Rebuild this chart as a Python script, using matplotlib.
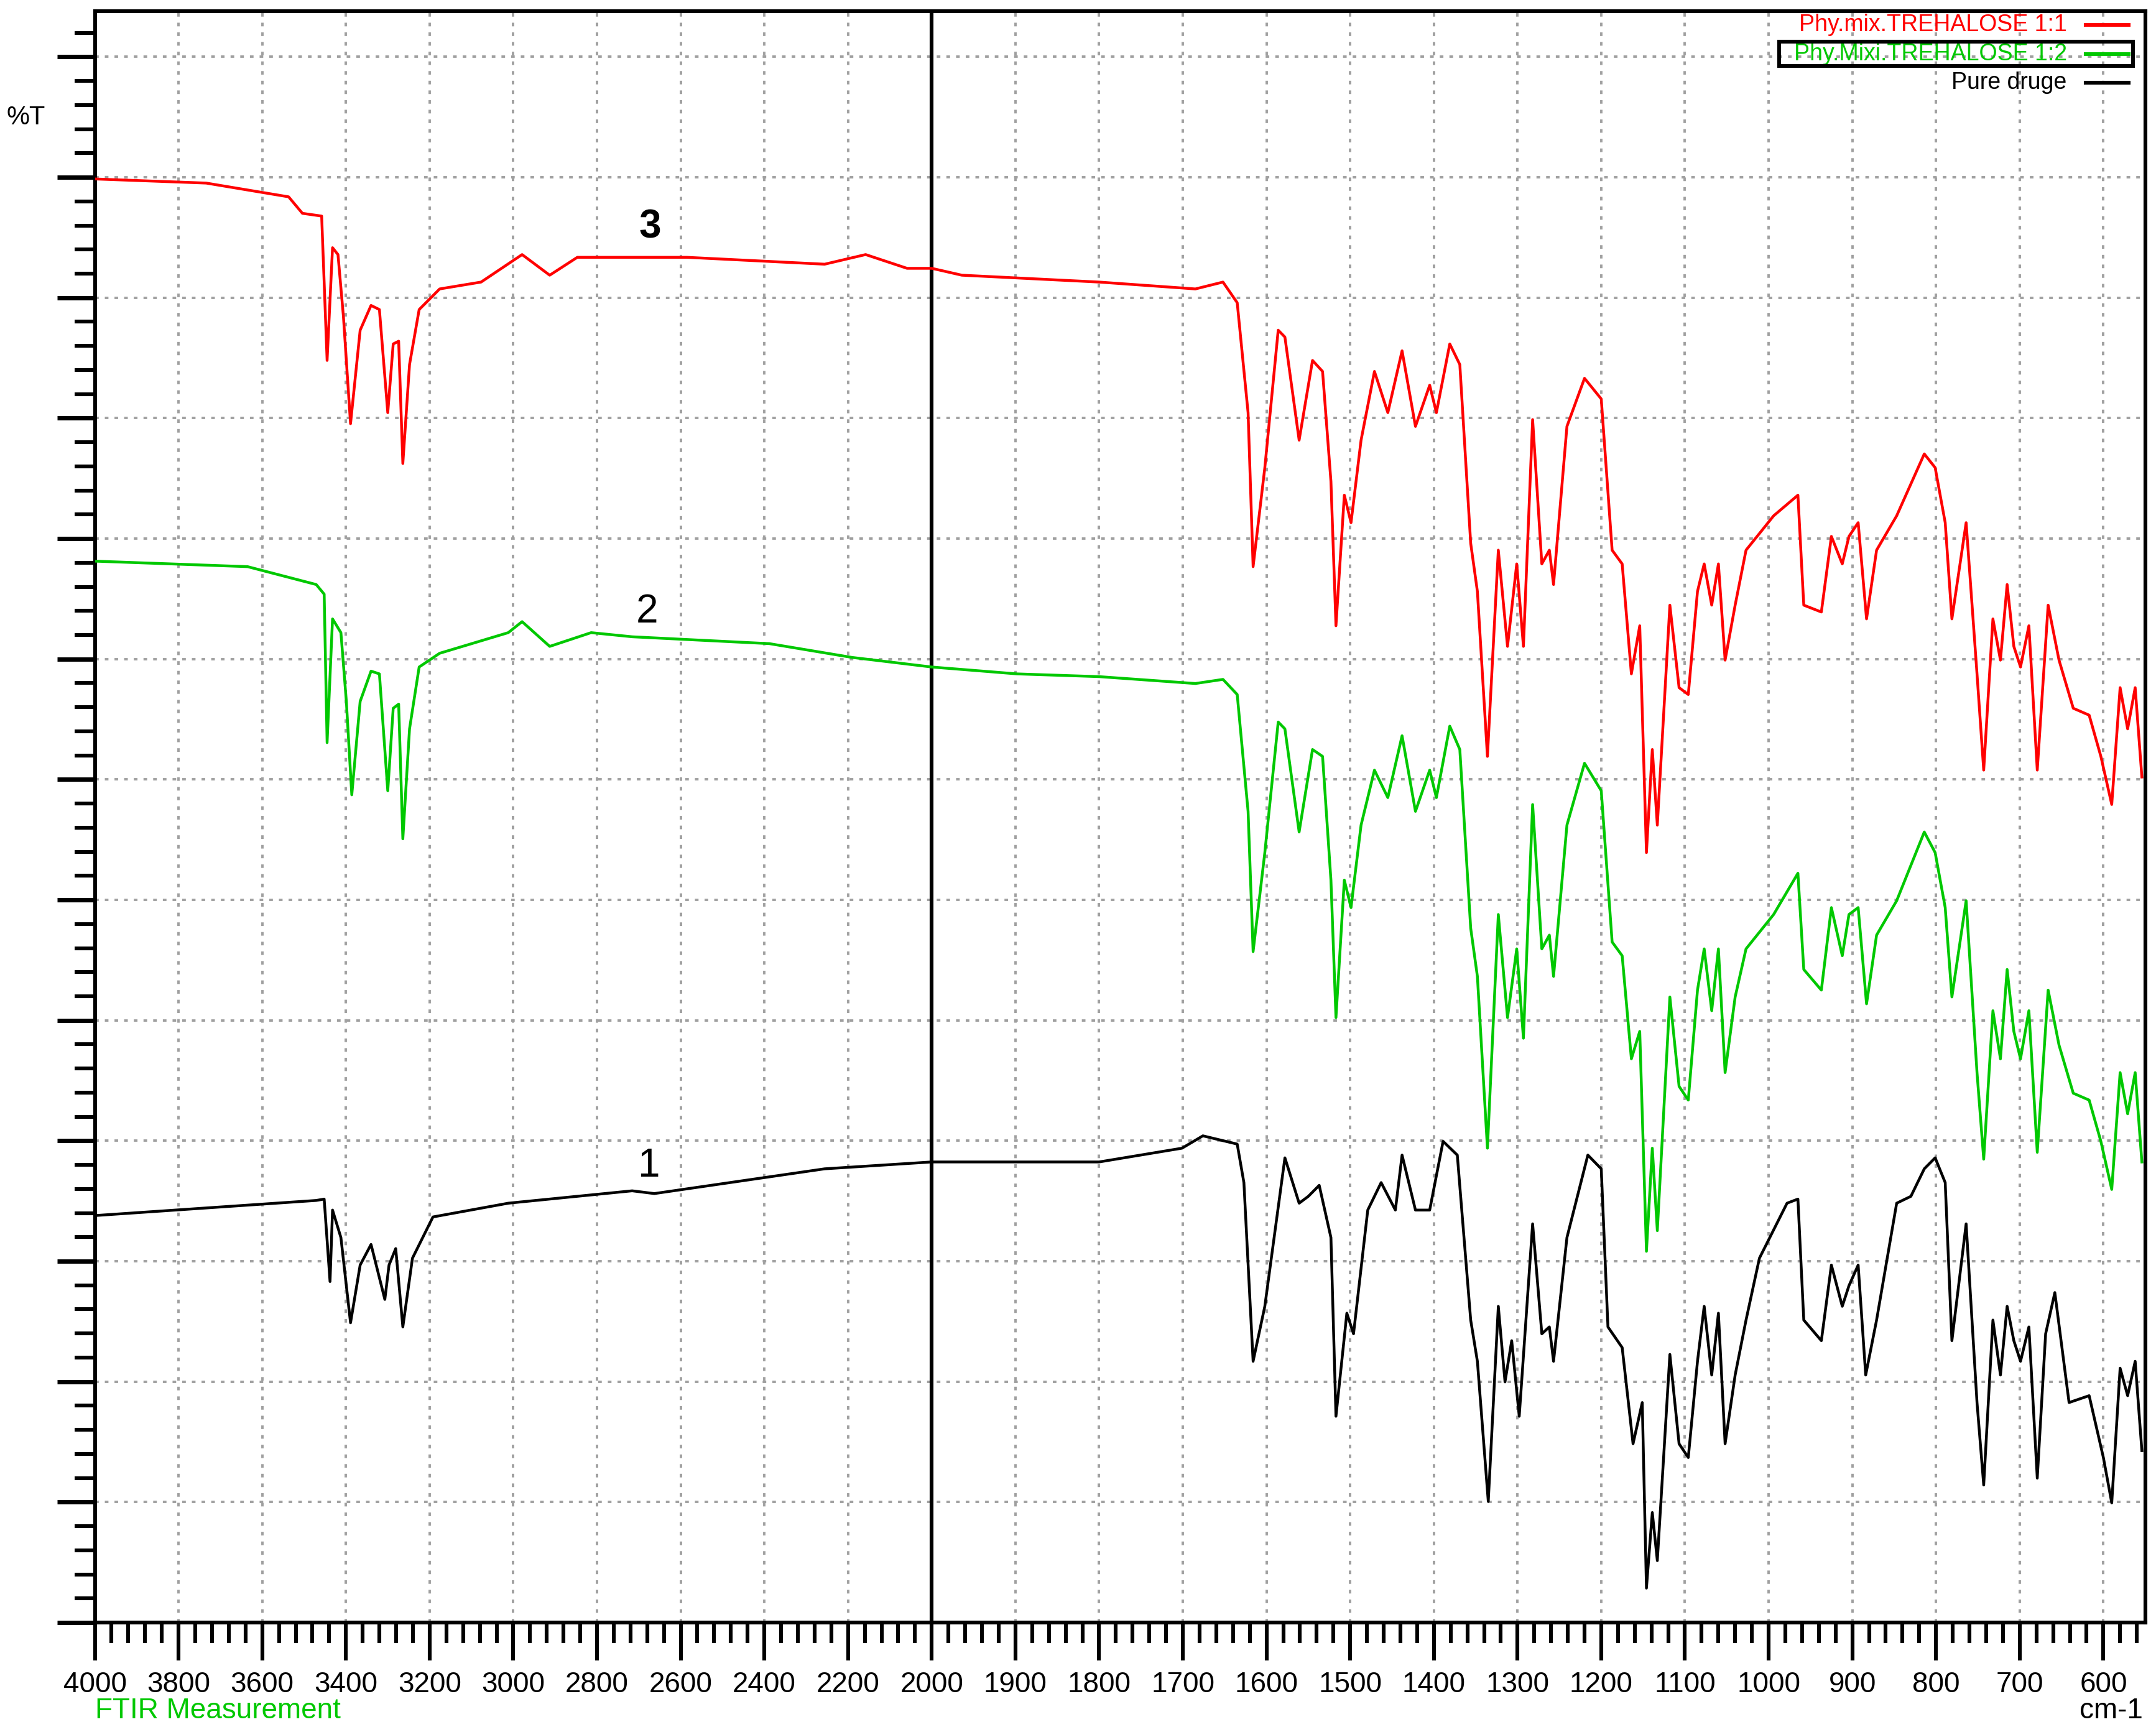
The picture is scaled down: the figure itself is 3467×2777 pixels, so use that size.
"""
FTIR overlay: pure drug vs physical mixtures with trehalose.
Wavenumber axis is split: 4000-2000 at half scale, 2000-550 at full scale.
"""
import numpy as np
import matplotlib
matplotlib.use("Agg")
import matplotlib.pyplot as plt
from matplotlib.ticker import FixedLocator, MultipleLocator

plt.rcParams["font.family"] = ["Liberation Sans", "DejaVu Sans"]

# -- Data (wavenumber cm-1, relative transmittance) --------------------------
black_wn = [4000, 3471, 3452, 3438, 3432, 3412, 3389, 3366, 3340, 3307, 3297, 3281, 3264, 3241,
            3192, 3012, 2716, 2663, 2256, 2000, 1964, 1800, 1701, 1676, 1635, 1627, 1616, 1602,
            1578, 1561, 1550, 1537, 1523, 1517, 1504, 1496, 1479, 1463, 1446, 1438, 1422, 1405,
            1389, 1372, 1356, 1348, 1335, 1323, 1315, 1307, 1298, 1282, 1271, 1262, 1257, 1241,
            1216, 1200, 1192, 1175, 1162, 1151, 1146, 1139, 1133, 1118, 1107, 1096, 1085, 1077,
            1068, 1060, 1052, 1040, 1027, 1011, 978, 965, 958, 937, 925, 912, 904, 893, 884, 871,
            847, 830, 814, 801, 789, 781, 764, 751, 743, 732, 723, 715, 707, 699, 689, 679, 669,
            658, 641, 617, 600, 590, 580, 571, 562, 554]
black_t = [296, 307, 308, 248, 300, 280, 218, 260, 275, 235, 260, 272, 215, 265,
           295, 305, 314, 312, 330, 335, 335, 335, 345, 354, 348, 320, 190, 230,
           338, 305, 310, 318, 280, 150, 225, 210, 300, 320, 300, 340, 300, 300,
           350, 340, 220, 190, 88, 230, 175, 205, 150, 290, 210, 215, 190, 280,
           340, 330, 215, 200, 130, 160, 25, 80, 45, 195, 130, 120, 190, 230,
           180, 225, 130, 180, 220, 265, 305, 308, 220, 205, 260, 230, 245, 260, 180, 220,
           305, 310, 330, 338, 320, 205, 290, 160, 100, 220, 180, 230, 205, 190, 215, 105, 210,
           240, 160, 165, 120, 87, 185, 165, 190, 125]

red_wn = [4000, 3734, 3537, 3504, 3458, 3445, 3432, 3419, 3406, 3389, 3366, 3340, 3320, 3300,
          3287, 3274, 3264, 3248, 3225, 3176, 3077, 2979, 2913, 2847, 2585, 2256, 2158, 2059,
          2000, 1964, 1800, 1685, 1652, 1635, 1622, 1616, 1602, 1586, 1578, 1561, 1545, 1533,
          1523, 1517, 1507, 1499, 1487, 1471, 1455, 1438, 1422, 1405, 1397, 1381, 1369, 1356,
          1348, 1336, 1323, 1312, 1301, 1293, 1282, 1271, 1262, 1257, 1241, 1220, 1200, 1187,
          1175, 1164, 1154, 1146, 1139, 1133, 1118, 1107, 1096, 1085, 1077, 1068, 1060, 1052,
          1040, 1027, 994, 965, 958, 937, 925, 912, 904, 893, 883, 871, 847, 814, 801, 789,
          781, 764, 751, 743, 732, 723, 715, 707, 699, 689, 679, 666, 653, 636, 617, 603, 590,
          580, 571, 562, 554]
red_t = [1050, 1047, 1037, 1025, 1023, 918, 1000, 995, 950, 872, 940, 958, 955, 880,
         930, 932, 843, 915, 955, 970, 975, 995, 980, 993, 993, 988, 995, 985,
         985, 980, 975, 970, 975, 960, 880, 768, 840, 940, 935, 860, 918, 910,
         830, 725, 820, 800, 860, 910, 880, 925, 870, 900, 880, 930, 915, 785,
         750, 630, 780, 710, 770, 710, 875, 770, 780, 755, 870, 905, 890, 780,
         770, 690, 725, 560, 635, 580, 740, 680, 675, 750, 770, 740, 770, 700,
         740, 780, 805, 820, 740, 735, 790, 770, 790, 800, 730, 780, 805, 850, 840, 800,
         730, 800, 690, 620, 730, 700, 755, 710, 695, 725, 620, 740, 700, 665, 660, 630, 595,
         680, 650, 680, 615]

green_wn = [4000, 3635, 3471, 3452, 3445, 3432, 3412, 3399, 3386, 3366, 3340, 3320, 3300, 3287,
            3274, 3264, 3248, 3225, 3176, 3012, 2979, 2913, 2814, 2716, 2388, 2191, 2000, 1898,
            1800, 1685, 1652, 1635, 1622, 1616, 1602, 1586, 1578, 1561, 1545, 1533, 1523, 1517,
            1507, 1499, 1487, 1471, 1455, 1438, 1422, 1405, 1397, 1381, 1369, 1356, 1348, 1336,
            1323, 1312, 1301, 1293, 1282, 1271, 1262, 1257, 1241, 1220, 1200, 1187, 1175, 1164,
            1154, 1146, 1139, 1133, 1118, 1107, 1096, 1085, 1077, 1068, 1060, 1052, 1040, 1027,
            994, 965, 958, 937, 925, 912, 904, 893, 883, 871, 847, 814, 801, 789, 781, 764, 751,
            743, 732, 723, 715, 707, 699, 689, 679, 666, 653, 636, 617, 603, 590, 580, 571, 562,
            554]
green_t = [772, 768, 755, 748, 640, 730, 720, 670, 602, 670, 692, 690, 605, 665,
           668, 570, 650, 695, 705, 720, 728, 710, 720, 717, 712, 702, 695, 690,
           688, 683, 686, 675, 590, 488, 560, 655, 650, 575, 635, 630, 540, 440,
           540, 520, 580, 620, 600, 645, 590, 620, 600, 652, 635, 505, 470, 345,
           515, 440, 490, 425, 595, 490, 500, 470, 580, 625, 605, 495, 485, 410,
           430, 270, 345, 285, 455, 390, 380, 460, 490, 445, 490, 400, 455, 490,
           515, 545, 475, 460, 520, 485, 515, 520, 450, 500, 525, 575, 560, 520, 455, 525, 400,
           337, 445, 410, 475, 430, 410, 445, 342, 460, 420, 385, 380, 350, 315, 400, 370, 400,
           335]

LABELS = ["Phy.mix.TREHALOSE 1:1", "Phy.Mixi.TREHALOSE 1:2", "Pure druge"]
COLORS = ["#ff0000", "#00c800", "#000000"]
MAJOR_WN = [4000, 3800, 3600, 3400, 3200, 3000, 2800, 2600, 2400, 2200, 2000,
            1900, 1800, 1700, 1600, 1500, 1400, 1300, 1200, 1100, 1000, 900, 800, 700, 600]
WN_END = 550
Y_MAX = 1172
Y_STEP = 87.6


def to_u(wn):
    """Map wavenumber to the split plotting coordinate (doubled scale below 2000)."""
    wn = np.asarray(wn, dtype=float)
    return np.where(wn >= 2000, 4000 - wn, 2000 + 2 * (2000 - wn))


fig = plt.figure(figsize=(17.335, 13.885), dpi=200)
ax = fig.add_axes([0.044, 0.0605, 0.951, 0.933])

for wn, t, c in [(red_wn, red_t, COLORS[0]), (green_wn, green_t, COLORS[1]), (black_wn, black_t, COLORS[2])]:
    ax.plot(to_u(wn), t, color=c, linewidth=1.6, zorder=3)

ax.set_xlim(0, float(to_u(WN_END)))
ax.set_ylim(0, Y_MAX)

# -- Grid / ticks -------------------------------------------------------------
ax.xaxis.set_major_locator(FixedLocator(to_u(MAJOR_WN)))
ax.set_xticklabels([str(w) for w in MAJOR_WN])
ax.xaxis.set_minor_locator(MultipleLocator(40))
ax.yaxis.set_major_locator(MultipleLocator(Y_STEP))
ax.yaxis.set_minor_locator(MultipleLocator(Y_STEP / 5))
ax.set_yticklabels([])
ax.tick_params(axis="x", which="major", length=22, width=2.2, direction="out", labelsize=16.5, pad=6)
ax.tick_params(axis="x", which="minor", length=12, width=2.2, direction="out")
ax.tick_params(axis="y", which="major", length=22, width=2.5, direction="out")
ax.tick_params(axis="y", which="minor", length=12, width=2.2, direction="out")
ax.grid(True, which="major", color="#a0a0a0", linestyle=(0, (1.5, 2.5)), linewidth=1.4, zorder=0)
ax.axvline(to_u(2000), color="black", linewidth=2.2, zorder=2)
for sp in ax.spines.values():
    sp.set_linewidth(2.2)

# -- Curve numbers ------------------------------------------------------------
ax.text(to_u(2673), 1015, "3", fontsize=23, fontweight="bold", ha="center", va="center")
ax.text(to_u(2680), 735, "2", fontsize=23, ha="center", va="center")
ax.text(to_u(2677), 332, "1", fontsize=23, ha="center", va="center")

# -- Legend (text + line sample) -------------------------------------------------
for i, (lab, c) in enumerate(zip(LABELS, COLORS)):
    y = 0.9915 - i * 0.018
    ax.text(0.9618, y, lab, transform=ax.transAxes, color=c, fontsize=13.5,
            ha="right", va="center")
    ax.plot([0.971, 0.992], [y, y], transform=ax.transAxes, color=c, linewidth=2.2, clip_on=False)
box = plt.Rectangle((0.8216, 0.9659), 0.1724, 0.0153,
                    transform=ax.transAxes, fill=False, edgecolor="black", linewidth=2.2, zorder=5)
ax.add_patch(box)

fig.text(0.003, 0.928, "%T", fontsize=15)
fig.text(0.044, 0.005, "FTIR Measurement", color="#00c800", fontsize=16.5)
fig.text(0.994, 0.005, "cm-1", fontsize=16.5, ha="right")

fig.savefig("out.png", dpi=200)
